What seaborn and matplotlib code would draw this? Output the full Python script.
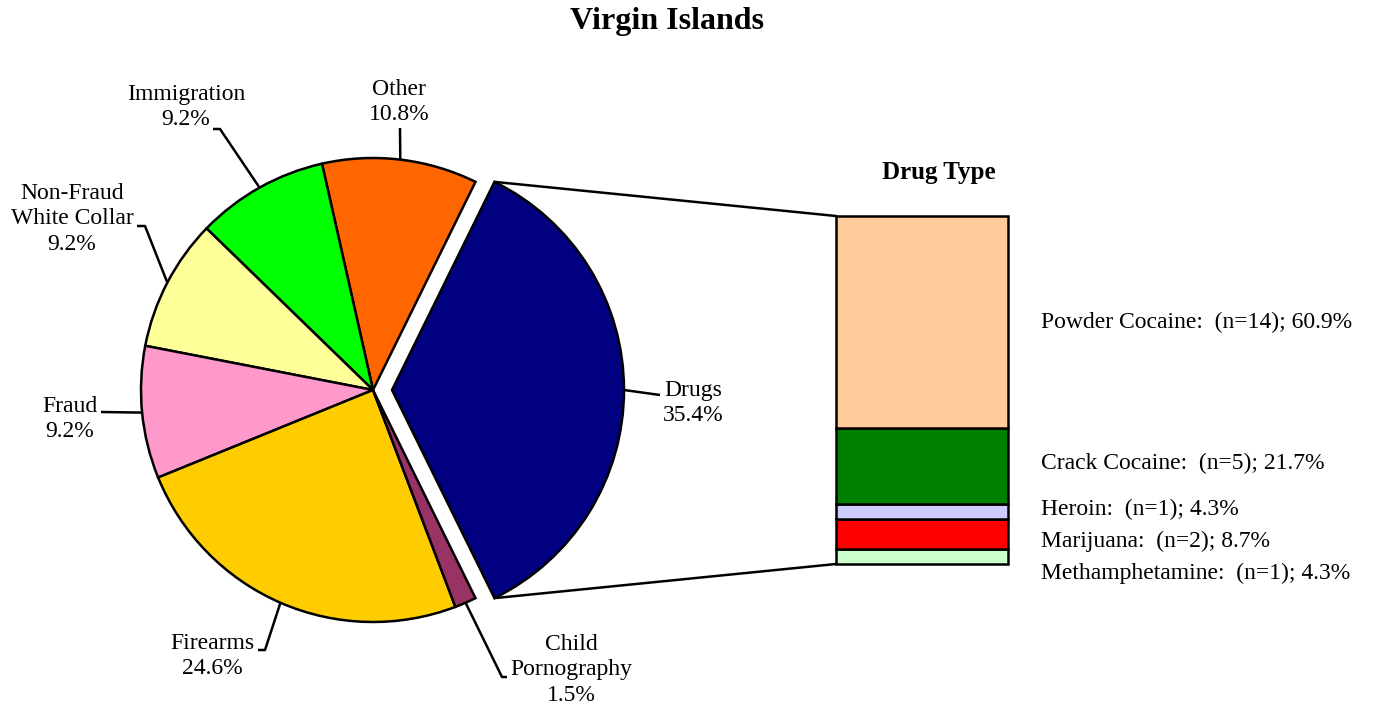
import numpy as np
import matplotlib
matplotlib.use("Agg")
import matplotlib.pyplot as plt
import seaborn as sns
from matplotlib.patches import ConnectionPatch

# ---- data ----
categories = ["Drugs", "Other", "Immigration", "Non-Fraud\nWhite Collar",
              "Fraud", "Firearms", "Child\nPornography"]
shares = [35.4, 10.8, 9.2, 9.2, 9.2, 24.6, 1.5]
pie_colors = ["#000080", "#FF6600", "#00FF00", "#FFFF99",
              "#FF99CC", "#FFCC00", "#993366"]

drug_types = ["Powder Cocaine", "Crack Cocaine", "Heroin", "Marijuana", "Methamphetamine"]
drug_counts = [14, 5, 1, 2, 1]
drug_shares = [60.9, 21.7, 4.3, 8.7, 4.3]
drug_colors = ["#FFCC99", "#008000", "#CCCCFF", "#FF0000", "#CCFFCC"]

# ---- style ----
sns.set_style("white")
plt.rcParams['font.family'] = ['Liberation Serif', 'DejaVu Serif']
plt.rcParams['text.color'] = 'black'

W, H = 1377, 711
fig = plt.figure(figsize=(W / 100, H / 100), dpi=100)
ax = fig.add_axes([0, 0, 1, 1])

total = sum(shares)
start = -shares[0] / total * 360 / 2
wedges, _ = ax.pie(shares, colors=pie_colors, startangle=start, counterclock=True,
                   explode=[19] + [0] * (len(shares) - 1),
                   center=(373, H - 390), radius=232,
                   wedgeprops=dict(edgecolor='black', linewidth=1.8))
ax.set_xlim(0, W)
ax.set_ylim(0, H)
ax.set_axis_off()

FS = 17
LS = 1.3
# label layout: text centre, leader end points (pixel coords, y down)
label_layout = [
    ((693, 403), [(660, 395)]),
    ((399, 102), [(400, 128)]),
    ((186, 107), [(220, 129), (213, 129)]),
    ((72, 219), [(145, 226), (137, 226)]),
    ((70, 419), [(101, 412)]),
    ((212, 656), [(265, 650), (258, 650)]),
    ((571, 670), [(502, 677), (507, 677)]),
]
for w, cat, val, (tpos, pts) in zip(wedges, categories, shares, label_layout):
    mid = np.deg2rad((w.theta1 + w.theta2) / 2)
    cx, cy = w.center
    ex, ey = cx + w.r * np.cos(mid), cy + w.r * np.sin(mid)
    xs = [ex] + [p[0] for p in pts]
    ys = [ey] + [H - p[1] for p in pts]
    ax.plot(xs, ys, color='black', lw=1.8, solid_capstyle='butt')
    ax.text(tpos[0], H - tpos[1], f"{cat}\n{val:.1f}%", ha='center', va='center',
            multialignment='center', fontsize=FS, linespacing=LS)

ax.text(W / 2 - 22, H - 21, "Virgin Islands", ha='center', va='center',
        fontsize=23, fontweight='bold')

# ---- stacked bar ----
bax = fig.add_axes([836 / W, (H - 564) / H, 172 / W, 348 / H])
bottom = 0
for name, s, c in zip(drug_types[::-1], drug_shares[::-1], drug_colors[::-1]):
    bax.bar(0, s, bottom=bottom, width=1.0, color=c, edgecolor='black',
            linewidth=1.8, clip_on=False)
    bottom += s
bax.set_xlim(-0.5, 0.5)
bax.set_ylim(0, sum(drug_shares))
bax.set_axis_off()

ax.text(939, H - 173, "Drug Type", ha='center', va='center', fontsize=18, fontweight='bold')

label_y = [322, 463, 509, 541, 573]
for name, n, s, y in zip(drug_types, drug_counts, drug_shares, label_y):
    ax.text(1041, H - y, f"{name}:  (n={n}); {s:.1f}%", ha='left', va='center', fontsize=FS)

# ---- connectors ----
dw = wedges[0]
cx, cy = dw.center
t2 = np.deg2rad(dw.theta2)
t1 = np.deg2rad(dw.theta1)
top_corner = (cx + dw.r * np.cos(t2), cy + dw.r * np.sin(t2))
bot_corner = (cx + dw.r * np.cos(t1), cy + dw.r * np.sin(t1))
for corner, yb in [(top_corner, sum(drug_shares)), (bot_corner, 0)]:
    con = ConnectionPatch(xyA=corner, coordsA=ax.transData,
                          xyB=(-0.5, yb), coordsB=bax.transData,
                          color='black', lw=1.8)
    fig.add_artist(con)

fig.savefig("out.png", dpi=100)
